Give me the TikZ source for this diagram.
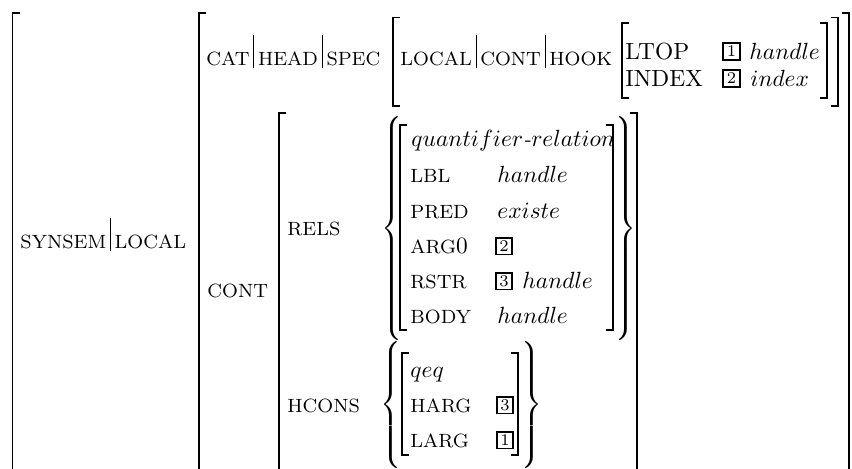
\documentclass[tikz,border=0pt]{standalone}

% small capitals set as reduced uppercase letters
\newcommand{\fsc}[1]{{\fontsize{8.2pt}{10pt}\selectfont #1}}
% path separator: a tall thin bar between feature names
\newcommand{\pbar}{\kern1.6pt\vrule height 12.8pt depth 1.3pt width 0.45pt\kern1.6pt}
% set braces of a given total height
\newcommand{\openset}[1]{{\nulldelimiterspace=0pt$\left\{\vcenter{\hrule height #1 width 0pt}\right.$}}
\newcommand{\closeset}[1]{{\nulldelimiterspace=0pt$\left.\vcenter{\hrule height #1 width 0pt}\right\}$}}
% square brackets: x, top, bottom
\newcommand{\lbrk}[3]{\draw[brk] (#1+7,#2) -- (#1,#2) -- (#1,#3) -- (#1+7,#3);}
\newcommand{\rbrk}[3]{\draw[brk] (#1-7,#2) -- (#1,#2) -- (#1,#3) -- (#1-7,#3);}

\begin{document}
\begin{tikzpicture}[x=0.4274pt,y=-0.4274pt,
  brk/.style={line width=0.55pt},
  feat/.style={anchor=base west,inner sep=0pt},
  attr/.style={anchor=base west,inner sep=0pt},
  val/.style={anchor=base west,inner sep=0pt},
  tag/.style={draw,line width=0.8pt,inner sep=0pt,minimum size=7.2pt,font=\scriptsize},
  setbr/.style={inner sep=0pt,anchor=center}]
\clip (0,0) rectangle (852,468);

% ---- square brackets ----
\lbrk{12.5}{13}{490}
\lbrk{199}{13}{490}
\lbrk{279}{113}{490}
\lbrk{393}{17.5}{106}
\lbrk{622}{23}{98}
\lbrk{400}{125}{330}
\lbrk{402}{353}{455}
\rbrk{613}{125}{330}
\rbrk{518}{353}{455}
\rbrk{827}{23}{98}
\rbrk{838}{17.5}{106}
\rbrk{849}{13}{490}
\rbrk{637}{113}{490}

% ---- set braces ----
\node[setbr] (relsL) at (392,228.5) {\openset{96pt}};
\node[setbr] (relsR) at (626,228.5) {\closeset{96pt}};
\node[setbr] (hconsL) at (391,405) {\openset{53.7pt}};
\node[setbr] (hconsR) at (532,405) {\closeset{53.7pt}};

% ---- top level ----
\node[feat] (synsem) at (20,248) {\fsc{SYNSEM}\pbar\fsc{LOCAL}};
\node[feat] (cathead) at (206,65) {\fsc{CAT}\pbar\fsc{HEAD}\pbar\fsc{SPEC}};
\node[feat] (hook) at (400,65) {\fsc{LOCAL}\pbar\fsc{CONT}\pbar\fsc{HOOK}};
\node[attr] (ltop) at (625,59) {LTOP};
\node[attr] (index) at (625,86) {INDEX};
\node[tag] (t1a) at (731.5,51.5) {1};
\node[tag] (t2a) at (731.5,78.5) {2};
\node[val] (ltopv) at (749,59) {$handle$};
\node[val] (indexv) at (750,86) {$index$};

% ---- CONT ----
\node[feat] (cont) at (207,297) {\fsc{CONT}};
\node[feat] (rels) at (287,235) {\fsc{RELS}};
\node[feat] (hcons) at (287,412) {\fsc{HCONS}};

% quantifier relation
\node[val,font=\fontsize{9.6pt}{11pt}\selectfont] (qrel) at (411,146) {$quantifier$\textit{-}$relation$};
\node[feat] (lbl) at (410,182) {\fsc{LBL}};
\node[feat] (pred) at (410,218) {\fsc{PRED}};
\node[feat] (arg) at (410,253) {\fsc{ARG}0};
\node[feat] (rstr) at (410,288) {\fsc{RSTR}};
\node[feat] (body) at (410,323) {\fsc{BODY}};
\node[val] (lblv) at (497,182) {$handle$};
\node[val] (predv) at (497,218) {$existe$};
\node[tag] (t2b) at (504,246) {2};
\node[tag] (t3b) at (504,281) {3};
\node[val] (rstrv) at (522,288) {$handle$};
\node[val] (bodyv) at (497,323) {$handle$};

% qeq constraint
\node[val] (qeq) at (410,377) {$qeq$};
\node[feat] (harg) at (410,412) {\fsc{HARG}};
\node[feat] (larg) at (410,447) {\fsc{LARG}};
\node[tag] (t3c) at (505,405) {3};
\node[tag] (t1c) at (505,440) {1};
\end{tikzpicture}
\end{document}
